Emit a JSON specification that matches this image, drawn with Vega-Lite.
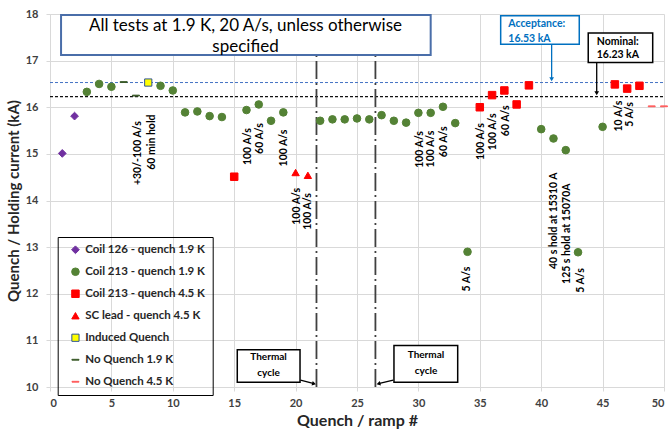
{
  "$schema": "https://vega.github.io/schema/vega-lite/v6.json",
  "width": 614,
  "height": 373,
  "autosize": {"type": "none"},
  "padding": {"left": 50, "top": 14, "right": 6, "bottom": 45},
  "background": "white",
  "config": {
    "font": "Lato",
    "view": {"stroke": null},
    "legend": {"symbolSize": 28},
    "axis": {
      "gridColor": "#d9d9d9", "gridWidth": 1,
      "domainColor": "#d9d9d9", "tickColor": "#d9d9d9", "tickSize": 4,
      "labelFont": "Lato", "labelFontWeight": "bold", "labelFontSize": 11, "labelColor": "#404040",
      "titleFont": "Lato", "titleFontWeight": "bold", "titleColor": "#404040"
    }
  },
  "datasets": {
    "pts": [
      {"x": 1, "y": 15.01, "s": "Coil 126 - quench 1.9 K"},
      {"x": 2, "y": 15.81, "s": "Coil 126 - quench 1.9 K"},
      {"x": 3, "y": 16.33, "s": "Coil 213 - quench 1.9 K"},
      {"x": 4, "y": 16.5, "s": "Coil 213 - quench 1.9 K"},
      {"x": 5, "y": 16.44, "s": "Coil 213 - quench 1.9 K"},
      {"x": 9, "y": 16.46, "s": "Coil 213 - quench 1.9 K"},
      {"x": 10, "y": 16.36, "s": "Coil 213 - quench 1.9 K"},
      {"x": 11, "y": 15.89, "s": "Coil 213 - quench 1.9 K"},
      {"x": 12, "y": 15.91, "s": "Coil 213 - quench 1.9 K"},
      {"x": 13, "y": 15.81, "s": "Coil 213 - quench 1.9 K"},
      {"x": 14, "y": 15.79, "s": "Coil 213 - quench 1.9 K"},
      {"x": 16, "y": 15.94, "s": "Coil 213 - quench 1.9 K"},
      {"x": 17, "y": 16.06, "s": "Coil 213 - quench 1.9 K"},
      {"x": 18, "y": 15.71, "s": "Coil 213 - quench 1.9 K"},
      {"x": 19, "y": 15.89, "s": "Coil 213 - quench 1.9 K"},
      {"x": 22, "y": 15.71, "s": "Coil 213 - quench 1.9 K"},
      {"x": 23, "y": 15.74, "s": "Coil 213 - quench 1.9 K"},
      {"x": 24, "y": 15.74, "s": "Coil 213 - quench 1.9 K"},
      {"x": 25, "y": 15.76, "s": "Coil 213 - quench 1.9 K"},
      {"x": 26, "y": 15.74, "s": "Coil 213 - quench 1.9 K"},
      {"x": 27, "y": 15.83, "s": "Coil 213 - quench 1.9 K"},
      {"x": 28, "y": 15.71, "s": "Coil 213 - quench 1.9 K"},
      {"x": 29, "y": 15.67, "s": "Coil 213 - quench 1.9 K"},
      {"x": 30, "y": 15.88, "s": "Coil 213 - quench 1.9 K"},
      {"x": 31, "y": 15.88, "s": "Coil 213 - quench 1.9 K"},
      {"x": 32, "y": 16.01, "s": "Coil 213 - quench 1.9 K"},
      {"x": 33, "y": 15.66, "s": "Coil 213 - quench 1.9 K"},
      {"x": 34, "y": 12.9, "s": "Coil 213 - quench 1.9 K"},
      {"x": 40, "y": 15.53, "s": "Coil 213 - quench 1.9 K"},
      {"x": 41, "y": 15.33, "s": "Coil 213 - quench 1.9 K"},
      {"x": 42, "y": 15.08, "s": "Coil 213 - quench 1.9 K"},
      {"x": 43, "y": 12.89, "s": "Coil 213 - quench 1.9 K"},
      {"x": 45, "y": 15.58, "s": "Coil 213 - quench 1.9 K"},
      {"x": 15, "y": 14.51, "s": "Coil 213 - quench 4.5 K"},
      {"x": 35, "y": 16.0, "s": "Coil 213 - quench 4.5 K"},
      {"x": 36, "y": 16.26, "s": "Coil 213 - quench 4.5 K"},
      {"x": 37, "y": 16.36, "s": "Coil 213 - quench 4.5 K"},
      {"x": 38, "y": 16.06, "s": "Coil 213 - quench 4.5 K"},
      {"x": 39, "y": 16.47, "s": "Coil 213 - quench 4.5 K"},
      {"x": 46, "y": 16.49, "s": "Coil 213 - quench 4.5 K"},
      {"x": 47, "y": 16.4, "s": "Coil 213 - quench 4.5 K"},
      {"x": 48, "y": 16.46, "s": "Coil 213 - quench 4.5 K"},
      {"x": 20, "y": 14.6, "s": "SC lead - quench 4.5 K"},
      {"x": 21, "y": 14.54, "s": "SC lead - quench 4.5 K"},
      {"x": 8, "y": 16.53, "s": "Induced Quench"},
      {"x": 6, "y": 16.54, "s": "No Quench 1.9 K"},
      {"x": 7, "y": 16.25, "s": "No Quench 1.9 K"},
      {"x": 49, "y": 16.02, "s": "No Quench 4.5 K"},
      {"x": 50, "y": 16.02, "s": "No Quench 4.5 K"}
    ],
    "hlines": [
      {"b": "acc", "x": 0, "x2": 50, "y": 16.53},
      {"b": "nom", "x": 0, "x2": 50, "y": 16.23}
    ],
    "vlines": [
      {"x": 21.7, "y": 10, "y2": 17.12},
      {"x": 26.5, "y": 10, "y2": 17.12}
    ],
    "notes": [
      {"x": 7.17, "y": 14.33, "t": "+30/-100 A/s"},
      {"x": 8.3, "y": 14.66, "t": "60 min hold"},
      {"x": 16.1, "y": 14.76, "t": "100 A/s"},
      {"x": 17.1, "y": 15.0, "t": "60 A/s"},
      {"x": 19.05, "y": 14.73, "t": "100 A/s"},
      {"x": 20.1, "y": 13.48, "t": "100 A/s"},
      {"x": 21.0, "y": 13.37, "t": "100 A/s"},
      {"x": 30.15, "y": 14.7, "t": "100 A/s"},
      {"x": 31.05, "y": 14.71, "t": "100 A/s"},
      {"x": 32.1, "y": 14.93, "t": "60 A/s"},
      {"x": 33.98, "y": 12.05, "t": "5 A/s"},
      {"x": 35.07, "y": 14.87, "t": "100 A/s"},
      {"x": 36.1, "y": 15.08, "t": "100 A/s"},
      {"x": 37.1, "y": 15.38, "t": "60 A/s"},
      {"x": 41.08, "y": 12.53, "t": "40 s hold at 15310 A"},
      {"x": 42.14, "y": 12.21, "t": "125 s hold at 15070A"},
      {"x": 43.24, "y": 12.02, "t": "5 A/s"},
      {"x": 46.3, "y": 15.48, "t": "10 A/s"},
      {"x": 47.2, "y": 15.58, "t": "5 A/s"}
    ],
    "boxes": [
      {"b": "title", "x": 0.9, "x2": 31.0, "y": 17.12, "y2": 17.98},
      {"b": "acc", "x": 36.7, "x2": 43.1, "y": 17.35, "y2": 17.96},
      {"b": "nom", "x": 43.83, "x2": 49.08, "y": 16.96, "y2": 17.59},
      {"b": "tc", "x": 15.25, "x2": 20.36, "y": 10.1, "y2": 10.8},
      {"b": "tc", "x": 28.01, "x2": 33.2, "y": 10.1, "y2": 10.89}
    ],
    "boxtext": [
      {"b": "title", "x": 15.92, "y": 17.74, "t": "All tests at 1.9 K, 20 A/s, unless otherwise"},
      {"b": "title", "x": 15.92, "y": 17.3, "t": "specified"},
      {"b": "acc", "x": 37.32, "y": 17.78, "t": "Acceptance:"},
      {"b": "acc", "x": 37.32, "y": 17.46, "t": "16.53 kA"},
      {"b": "nom", "x": 44.52, "y": 17.41, "t": "Nominal:"},
      {"b": "nom", "x": 44.52, "y": 17.11, "t": "16.23 kA"},
      {"b": "tc", "x": 17.8, "y": 10.65, "t": "Thermal"},
      {"b": "tc", "x": 17.8, "y": 10.3, "t": "cycle"},
      {"b": "tc", "x": 30.62, "y": 10.69, "t": "Thermal"},
      {"b": "tc", "x": 30.62, "y": 10.35, "t": "cycle"}
    ],
    "arrows": [
      {"b": "acc", "x": 40.85, "y": 17.35, "x2": 40.85, "y2": 16.6},
      {"b": "nom", "x": 44.52, "y": 16.96, "x2": 44.52, "y2": 16.3},
      {"b": "tc", "x": 20.4, "y": 10.15, "x2": 21.5, "y2": 10.07},
      {"b": "tc", "x": 27.95, "y": 10.15, "x2": 26.75, "y2": 10.07}
    ],
    "heads": [
      {"b": "acc", "x": 40.85, "y": 16.6, "d": "down"},
      {"b": "nom", "x": 44.52, "y": 16.3, "d": "down"},
      {"b": "tc", "x": 21.5, "y": 10.07, "d": "right"},
      {"b": "tc", "x": 26.75, "y": 10.07, "d": "left"}
    ]
  },
  "encoding": {
    "x": {
      "field": "x", "type": "quantitative",
      "scale": {"domain": [0, 50], "nice": false, "zero": false},
      "axis": {"values": [0, 5, 10, 15, 20, 25, 30, 35, 40, 45, 50], "labelPadding": 6, "titleFontSize": 16, "titlePadding": 4, "titleColor": "#262626"},
      "title": "Quench / ramp #"
    },
    "y": {
      "field": "y", "type": "quantitative",
      "scale": {"domain": [10, 18], "nice": false, "zero": false},
      "axis": {"values": [10, 11, 12, 13, 14, 15, 16, 17, 18], "labelPadding": 8, "titleFontSize": 15, "titlePadding": 4, "titleColor": "#262626"},
      "title": "Quench / Holding current (kA)"
    }
  },
  "layer": [
    {
      "data": {"name": "hlines"},
      "transform": [{"filter": "datum.b == 'acc'"}],
      "mark": {"type": "rule", "color": "#4472c4", "strokeWidth": 1, "strokeDash": [3, 2]},
      "encoding": {"x2": {"field": "x2"}}
    },
    {
      "data": {"name": "hlines"},
      "transform": [{"filter": "datum.b == 'nom'"}],
      "mark": {"type": "rule", "color": "#111111", "strokeWidth": 1.2, "strokeDash": [3, 2]},
      "encoding": {"x2": {"field": "x2"}}
    },
    {
      "data": {"name": "vlines"},
      "mark": {"type": "rule", "color": "#404040", "strokeWidth": 1.8, "strokeDash": [18, 4, 2, 4]},
      "encoding": {"y2": {"field": "y2"}}
    },
    {
      "data": {"name": "pts"},
      "mark": {"type": "point", "filled": true, "opacity": 1, "strokeWidth": 1},
      "encoding": {
        "color": {
          "field": "s", "type": "nominal",
          "scale": {
            "domain": ["Coil 126 - quench 1.9 K", "Coil 213 - quench 1.9 K", "Coil 213 - quench 4.5 K", "SC lead - quench 4.5 K", "Induced Quench", "No Quench 1.9 K", "No Quench 4.5 K"],
            "range": ["#7030a0", "#548235", "#ff0000", "#ff0000", "#ffff00", "#3a5a28", "#ff5a5a"]
          },
          "legend": {
            "title": null, "orient": "none", "legendX": 7.7, "legendY": 223,
            "strokeColor": "#000000", "padding": 7, "symbolOffset": 5,
            "labelFont": "Lato", "labelFontWeight": "bold", "labelFontSize": 11.5, "labelColor": "#262626",
            "labelOffset": 4, "symbolSize": 28, "rowPadding": 9, "symbolStrokeWidth": 1,
            "encode": {"symbols": {"update": {"size": {"value": 30}}}}
          }
        },
        "stroke": {
          "field": "s", "type": "nominal",
          "scale": {
            "domain": ["Coil 126 - quench 1.9 K", "Coil 213 - quench 1.9 K", "Coil 213 - quench 4.5 K", "SC lead - quench 4.5 K", "Induced Quench", "No Quench 1.9 K", "No Quench 4.5 K"],
            "range": ["#7030a0", "#548235", "#ff0000", "#ff0000", "#2f5597", "#3a5a28", "#ff5a5a"]
          },
          "legend": {
            "title": null, "orient": "none", "legendX": 7.7, "legendY": 223,
            "strokeColor": "#000000", "padding": 7, "symbolOffset": 5,
            "labelFont": "Lato", "labelFontWeight": "bold", "labelFontSize": 11.5, "labelColor": "#262626",
            "labelOffset": 4, "symbolSize": 28, "rowPadding": 9, "symbolStrokeWidth": 1,
            "encode": {"symbols": {"update": {"size": {"value": 30}}}}
          }
        },
        "shape": {
          "field": "s", "type": "nominal",
          "scale": {
            "domain": ["Coil 126 - quench 1.9 K", "Coil 213 - quench 1.9 K", "Coil 213 - quench 4.5 K", "SC lead - quench 4.5 K", "Induced Quench", "No Quench 1.9 K", "No Quench 4.5 K"],
            "range": ["diamond", "circle", "square", "triangle-up", "square", "M-1,-0.12L1,-0.12L1,0.12L-1,0.12Z", "M-1,-0.12L1,-0.12L1,0.12L-1,0.12Z"]
          },
          "legend": {
            "title": null, "orient": "none", "legendX": 7.7, "legendY": 223,
            "strokeColor": "#000000", "padding": 7, "symbolOffset": 5,
            "labelFont": "Lato", "labelFontWeight": "bold", "labelFontSize": 11.5, "labelColor": "#262626",
            "labelOffset": 4, "symbolSize": 28, "rowPadding": 9, "symbolStrokeWidth": 1,
            "encode": {"symbols": {"update": {"size": {"value": 30}}}}
          }
        },
        "size": {
          "field": "s", "type": "nominal",
          "scale": {
            "domain": ["Coil 126 - quench 1.9 K", "Coil 213 - quench 1.9 K", "Coil 213 - quench 4.5 K", "SC lead - quench 4.5 K", "Induced Quench", "No Quench 1.9 K", "No Quench 4.5 K"],
            "range": [60, 48, 50, 55, 45, 110, 110]
          },
          "legend": null
        }
      }
    },
    {
      "data": {"name": "notes"},
      "mark": {"type": "text", "angle": 270, "align": "left", "baseline": "middle", "font": "Lato", "fontWeight": "bold", "fontSize": 10.5, "color": "#000000"},
      "encoding": {"text": {"field": "t"}}
    },
    {
      "data": {"name": "boxes"},
      "transform": [{"filter": "datum.b == 'title'"}],
      "mark": {"type": "rect", "fill": "white", "stroke": "#4a6ea9", "strokeWidth": 2},
      "encoding": {"x2": {"field": "x2"}, "y2": {"field": "y2"}}
    },
    {
      "data": {"name": "boxes"},
      "transform": [{"filter": "datum.b == 'acc'"}],
      "mark": {"type": "rect", "fill": "white", "stroke": "#0070c0", "strokeWidth": 1.5},
      "encoding": {"x2": {"field": "x2"}, "y2": {"field": "y2"}}
    },
    {
      "data": {"name": "boxes"},
      "transform": [{"filter": "datum.b == 'nom' || datum.b == 'tc'"}],
      "mark": {"type": "rect", "fill": "white", "stroke": "#000000", "strokeWidth": 1.5},
      "encoding": {"x2": {"field": "x2"}, "y2": {"field": "y2"}}
    },
    {
      "data": {"name": "boxtext"},
      "transform": [{"filter": "datum.b == 'title'"}],
      "mark": {"type": "text", "align": "center", "baseline": "middle", "font": "Lato", "fontSize": 17, "color": "#000000"},
      "encoding": {"text": {"field": "t"}}
    },
    {
      "data": {"name": "boxtext"},
      "transform": [{"filter": "datum.b == 'acc'"}],
      "mark": {"type": "text", "align": "left", "baseline": "middle", "font": "Lato", "fontWeight": "bold", "fontSize": 10.5, "color": "#0070c0"},
      "encoding": {"text": {"field": "t"}}
    },
    {
      "data": {"name": "boxtext"},
      "transform": [{"filter": "datum.b == 'nom'"}],
      "mark": {"type": "text", "align": "left", "baseline": "middle", "font": "Lato", "fontWeight": "bold", "fontSize": 10.5, "color": "#000000"},
      "encoding": {"text": {"field": "t"}}
    },
    {
      "data": {"name": "boxtext"},
      "transform": [{"filter": "datum.b == 'tc'"}],
      "mark": {"type": "text", "align": "center", "baseline": "middle", "font": "Lato", "fontWeight": "bold", "fontSize": 10, "color": "#000000"},
      "encoding": {"text": {"field": "t"}}
    },
    {
      "data": {"name": "arrows"},
      "transform": [{"filter": "datum.b == 'acc'"}],
      "mark": {"type": "rule", "color": "#0070c0", "strokeWidth": 1.3},
      "encoding": {"x2": {"field": "x2"}, "y2": {"field": "y2"}}
    },
    {
      "data": {"name": "arrows"},
      "transform": [{"filter": "datum.b != 'acc'"}],
      "mark": {"type": "rule", "color": "#000000", "strokeWidth": 1.3},
      "encoding": {"x2": {"field": "x2"}, "y2": {"field": "y2"}}
    },
    {
      "data": {"name": "heads"},
      "transform": [{"filter": "datum.b == 'acc'"}],
      "mark": {"type": "point", "shape": "triangle-down", "filled": true, "size": 22, "color": "#0070c0", "opacity": 1},
      "encoding": {}
    },
    {
      "data": {"name": "heads"},
      "transform": [{"filter": "datum.b == 'nom'"}],
      "mark": {"type": "point", "shape": "triangle-down", "filled": true, "size": 22, "color": "#000000", "opacity": 1},
      "encoding": {}
    },
    {
      "data": {"name": "heads"},
      "transform": [{"filter": "datum.d == 'right'"}],
      "mark": {"type": "point", "shape": "triangle-right", "filled": true, "size": 20, "angle": 15, "color": "#000000", "opacity": 1},
      "encoding": {}
    },
    {
      "data": {"name": "heads"},
      "transform": [{"filter": "datum.d == 'left'"}],
      "mark": {"type": "point", "shape": "triangle-left", "filled": true, "size": 20, "angle": 345, "color": "#000000", "opacity": 1},
      "encoding": {}
    }
  ]
}
